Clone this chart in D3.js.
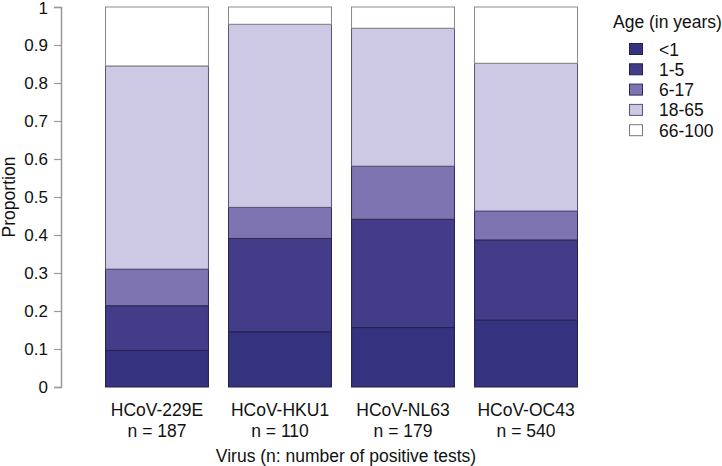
<!DOCTYPE html>
<html>
<head>
<meta charset="utf-8">
<script src="https://cdn.jsdelivr.net/npm/d3@7"></script>
<style>
  body { margin: 0; background: #fff; }
  svg { font-family: "Liberation Sans", Arial, sans-serif; }
</style>
</head>
<body>
<div id="chart"></div>
<script>
// viruses and counts per age group
const viruses = ['HCoV-229E', 'HCoV-HKU1', 'HCoV-NL63', 'HCoV-OC43']
const ageGroups = ['<1', '1-5', '6-17', '18-65', '66-100']
const under1 = [18, 16, 28, 95]
const age1to5 = [22, 27, 51, 114]
const age6to17 = [18, 9, 25, 41]
const age18to65 = [100, 53, 65, 210]
const age66to100 = [29, 5, 10, 80]
const yTicks = [0, 0.1, 0.2, 0.3, 0.4, 0.5, 0.6, 0.7, 0.8, 0.9, 1]

const colors = ['#35327f', '#433c88', '#7e74b1', '#cdc9e5', '#ffffff']
const strokes = ['#22224a', '#22224a', '#2e2a5a', '#55557a', '#8a8a8a']
const fontSize = 17.5

const width = 722, height = 466
const svg = d3.select('#chart').append('svg')
  .attr('width', width)
  .attr('height', height)

const x = d3.scaleBand()
  .domain(viruses)
  .range([105.5, 577.5])
  .paddingInner(0.163)
  .paddingOuter(0)

const y = d3.scaleLinear()
  .domain([0, 1])
  .range([387, 7])

// build stacked proportions
const counts = [under1, age1to5, age6to17, age18to65, age66to100]
const rows = viruses.map((v, i) => {
  const total = d3.sum(counts, c => c[i])
  const row = { virus: v, n: total }
  ageGroups.forEach((g, k) => { row[g] = counts[k][i] / total })
  return row
})
const series = d3.stack().keys(ageGroups)(rows)

// bars
svg.append('g').selectAll('g')
  .data(series)
  .enter().append('g')
    .attr('fill', (d, i) => colors[i])
    .attr('stroke', (d, i) => strokes[i])
    .attr('stroke-width', 1)
  .selectAll('rect')
  .data(d => d)
  .enter().append('rect')
    .attr('x', d => x(d.data.virus))
    .attr('width', x.bandwidth())
    .attr('y', d => y(d[1]))
    .attr('height', d => y(d[0]) - y(d[1]))

// y axis
const yAxis = svg.append('g')
  .attr('transform', 'translate(61,0)')
  .call(d3.axisLeft(y).tickValues(yTicks).tickSize(7).tickPadding(6).tickFormat(d3.format('')))
yAxis.select('.domain').attr('stroke', '#999').attr('stroke-width', 1.5)
yAxis.selectAll('.tick line').attr('stroke', '#999').attr('stroke-width', 1.2)
yAxis.selectAll('.tick text')
  .attr('font-size', 17)
  .attr('fill', '#111')
  .attr('font-family', '"Liberation Sans", Arial, sans-serif')
// keep the top label inside the picture
yAxis.selectAll('.tick text').filter(d => d === 1).attr('dy', '0.4em')

svg.append('text')
  .attr('transform', 'translate(15,197) rotate(-90)')
  .attr('text-anchor', 'middle')
  .attr('font-size', fontSize)
  .attr('fill', '#111')
  .text('Proportion')

// x labels
const xl = svg.append('g').selectAll('g')
  .data(rows)
  .enter().append('g')
    .attr('transform', d => `translate(${x(d.virus) + x.bandwidth() / 2},0)`)
xl.append('text')
  .attr('y', 416)
  .attr('text-anchor', 'middle')
  .attr('font-size', fontSize)
  .attr('fill', '#111')
  .text(d => d.virus)
xl.append('text')
  .attr('y', 437)
  .attr('text-anchor', 'middle')
  .attr('font-size', fontSize)
  .attr('fill', '#111')
  .text(d => 'n = ' + d.n)

svg.append('text')
  .attr('x', 346)
  .attr('y', 462)
  .attr('text-anchor', 'middle')
  .attr('font-size', fontSize)
  .attr('fill', '#111')
  .text('Virus (n: number of positive tests)')

// legend
const legend = svg.append('g').attr('transform', 'translate(613,0)')
legend.append('text')
  .attr('x', 0)
  .attr('y', 28)
  .attr('font-size', fontSize)
  .attr('fill', '#111')
  .text('Age (in years)')

const item = legend.selectAll('.item')
  .data(ageGroups)
  .enter().append('g')
    .attr('class', 'item')
    .attr('transform', (d, i) => `translate(0,${49 + i * 20.3})`)
item.append('rect')
  .attr('x', 16.5)
  .attr('y', -5.5)
  .attr('width', 13)
  .attr('height', 11)
  .attr('fill', (d, i) => colors[i])
  .attr('stroke', (d, i) => i === 4 ? '#777' : strokes[i])
item.append('text')
  .attr('x', 46)
  .attr('y', 6.5)
  .attr('font-size', fontSize)
  .attr('fill', '#111')
  .text(d => d)
</script>
</body>
</html>
